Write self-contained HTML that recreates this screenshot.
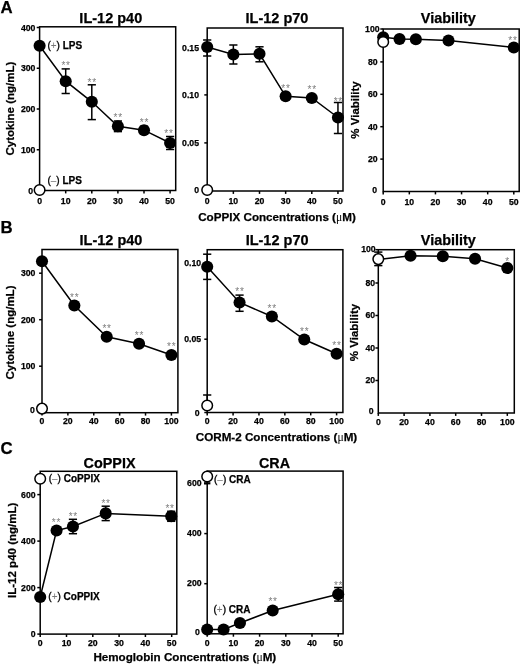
<!DOCTYPE html>
<html lang="en"><head><meta charset="utf-8"><title>Figure</title>
<style>html,body{margin:0;padding:0;background:#fff;overflow:hidden}svg{display:block;filter:grayscale(1)}text{font-family:"Liberation Sans",Arial,Helvetica,sans-serif}text[font-weight="bold"]{stroke:#000;stroke-width:0.25px}</style></head><body>
<svg width="520" height="664" viewBox="0 0 520 664">
<rect width="520" height="664" fill="#fff"/>
<text x="0.60" y="12.60" font-size="16.8" text-anchor="start" font-weight="bold" fill="#000" >A</text>
<text x="0.50" y="233.00" font-size="16.8" text-anchor="start" font-weight="bold" fill="#000" >B</text>
<text x="0.40" y="454.20" font-size="16.8" text-anchor="start" font-weight="bold" fill="#000" >C</text>
<rect x="39.60" y="26.80" width="136.10" height="163.70" fill="none" stroke="#000" stroke-width="1.5"/>
<text x="110.80" y="23.40" font-size="14.5" text-anchor="middle" font-weight="bold" fill="#000" >IL-12 p40</text>
<line x1="39.60" y1="190.50" x2="39.60" y2="193.40" stroke="#000" stroke-width="1.5" />
<text x="39.60" y="203.90" font-size="8.7" text-anchor="middle" font-weight="bold" fill="#000" >0</text>
<line x1="65.70" y1="190.50" x2="65.70" y2="193.40" stroke="#000" stroke-width="1.5" />
<text x="65.70" y="203.90" font-size="8.7" text-anchor="middle" font-weight="bold" fill="#000" >10</text>
<line x1="91.80" y1="190.50" x2="91.80" y2="193.40" stroke="#000" stroke-width="1.5" />
<text x="91.80" y="203.90" font-size="8.7" text-anchor="middle" font-weight="bold" fill="#000" >20</text>
<line x1="117.90" y1="190.50" x2="117.90" y2="193.40" stroke="#000" stroke-width="1.5" />
<text x="117.90" y="203.90" font-size="8.7" text-anchor="middle" font-weight="bold" fill="#000" >30</text>
<line x1="144.00" y1="190.50" x2="144.00" y2="193.40" stroke="#000" stroke-width="1.5" />
<text x="144.00" y="203.90" font-size="8.7" text-anchor="middle" font-weight="bold" fill="#000" >40</text>
<line x1="170.10" y1="190.50" x2="170.10" y2="193.40" stroke="#000" stroke-width="1.5" />
<text x="170.10" y="203.90" font-size="8.7" text-anchor="middle" font-weight="bold" fill="#000" >50</text>
<line x1="36.70" y1="149.75" x2="39.60" y2="149.75" stroke="#000" stroke-width="1.5" />
<text x="35.40" y="152.75" font-size="8.7" text-anchor="end" font-weight="bold" fill="#000" >100</text>
<line x1="36.70" y1="109.00" x2="39.60" y2="109.00" stroke="#000" stroke-width="1.5" />
<text x="35.40" y="112.00" font-size="8.7" text-anchor="end" font-weight="bold" fill="#000" >200</text>
<line x1="36.70" y1="68.25" x2="39.60" y2="68.25" stroke="#000" stroke-width="1.5" />
<text x="35.40" y="71.25" font-size="8.7" text-anchor="end" font-weight="bold" fill="#000" >300</text>
<line x1="36.70" y1="27.50" x2="39.60" y2="27.50" stroke="#000" stroke-width="1.5" />
<text x="35.40" y="30.50" font-size="8.7" text-anchor="end" font-weight="bold" fill="#000" >400</text>
<text x="33.20" y="193.50" font-size="8.7" text-anchor="end" font-weight="bold" fill="#000" >0</text>
<text transform="translate(14.10,108.60) rotate(-90)" font-size="11.5" text-anchor="middle" font-weight="bold">Cytokine (ng/mL)</text>
<polyline points="39.60,45.80 65.70,81.20 91.80,101.80 117.90,126.30 144.00,130.20 170.10,143.00" fill="none" stroke="#000" stroke-width="1.5"/>
<line x1="65.70" y1="68.90" x2="65.70" y2="93.50" stroke="#000" stroke-width="1.5" />
<line x1="61.60" y1="68.90" x2="69.80" y2="68.90" stroke="#000" stroke-width="1.5" />
<line x1="61.60" y1="93.50" x2="69.80" y2="93.50" stroke="#000" stroke-width="1.5" />
<line x1="91.80" y1="84.80" x2="91.80" y2="119.60" stroke="#000" stroke-width="1.5" />
<line x1="87.70" y1="84.80" x2="95.90" y2="84.80" stroke="#000" stroke-width="1.5" />
<line x1="87.70" y1="119.60" x2="95.90" y2="119.60" stroke="#000" stroke-width="1.5" />
<line x1="117.90" y1="121.00" x2="117.90" y2="131.60" stroke="#000" stroke-width="1.5" />
<line x1="113.80" y1="121.00" x2="122.00" y2="121.00" stroke="#000" stroke-width="1.5" />
<line x1="113.80" y1="131.60" x2="122.00" y2="131.60" stroke="#000" stroke-width="1.5" />
<line x1="144.00" y1="126.20" x2="144.00" y2="134.20" stroke="#000" stroke-width="1.5" />
<line x1="139.90" y1="126.20" x2="148.10" y2="126.20" stroke="#000" stroke-width="1.5" />
<line x1="139.90" y1="134.20" x2="148.10" y2="134.20" stroke="#000" stroke-width="1.5" />
<line x1="170.10" y1="136.50" x2="170.10" y2="149.50" stroke="#000" stroke-width="1.5" />
<line x1="166.00" y1="136.50" x2="174.20" y2="136.50" stroke="#000" stroke-width="1.5" />
<line x1="166.00" y1="149.50" x2="174.20" y2="149.50" stroke="#000" stroke-width="1.5" />
<circle cx="39.60" cy="45.80" r="6.05" fill="#000"/>
<circle cx="65.70" cy="81.20" r="6.05" fill="#000"/>
<circle cx="91.80" cy="101.80" r="6.05" fill="#000"/>
<circle cx="117.90" cy="126.30" r="6.05" fill="#000"/>
<circle cx="144.00" cy="130.20" r="6.05" fill="#000"/>
<circle cx="170.10" cy="143.00" r="6.05" fill="#000"/>
<circle cx="39.60" cy="190.00" r="5.30" fill="#fff" stroke="#000" stroke-width="1.5"/>
<text x="66.10" y="69.20" font-size="10" text-anchor="middle" font-weight="normal" fill="#7d7d7d" letter-spacing="0.8">**</text>
<text x="92.20" y="85.50" font-size="10" text-anchor="middle" font-weight="normal" fill="#7d7d7d" letter-spacing="0.8">**</text>
<text x="118.30" y="121.20" font-size="10" text-anchor="middle" font-weight="normal" fill="#7d7d7d" letter-spacing="0.8">**</text>
<text x="144.40" y="125.80" font-size="10" text-anchor="middle" font-weight="normal" fill="#7d7d7d" letter-spacing="0.8">**</text>
<text x="169.00" y="137.20" font-size="10" text-anchor="middle" font-weight="normal" fill="#7d7d7d" letter-spacing="0.8">**</text>
<text x="47.40" y="48.90" font-size="10" font-weight="bold"><tspan font-weight="normal" stroke-width="0.35">(</tspan><tspan font-weight="normal" fill="#777" stroke="none">+</tspan><tspan font-weight="normal" stroke-width="0.35">)</tspan> LPS</text>
<text x="47.40" y="184.00" font-size="10" font-weight="bold"><tspan font-weight="normal" stroke-width="0.35">(</tspan><tspan font-weight="normal" fill="#777" stroke="none">&#8211;</tspan><tspan font-weight="normal" stroke-width="0.35">)</tspan> LPS</text>
<rect x="207.20" y="28.00" width="135.80" height="163.00" fill="none" stroke="#000" stroke-width="1.5"/>
<text x="277.00" y="23.20" font-size="14.5" text-anchor="middle" font-weight="bold" fill="#000" >IL-12 p70</text>
<line x1="207.20" y1="191.00" x2="207.20" y2="193.90" stroke="#000" stroke-width="1.5" />
<text x="207.20" y="204.40" font-size="8.7" text-anchor="middle" font-weight="bold" fill="#000" >0</text>
<line x1="233.35" y1="191.00" x2="233.35" y2="193.90" stroke="#000" stroke-width="1.5" />
<text x="233.35" y="204.40" font-size="8.7" text-anchor="middle" font-weight="bold" fill="#000" >10</text>
<line x1="259.50" y1="191.00" x2="259.50" y2="193.90" stroke="#000" stroke-width="1.5" />
<text x="259.50" y="204.40" font-size="8.7" text-anchor="middle" font-weight="bold" fill="#000" >20</text>
<line x1="285.65" y1="191.00" x2="285.65" y2="193.90" stroke="#000" stroke-width="1.5" />
<text x="285.65" y="204.40" font-size="8.7" text-anchor="middle" font-weight="bold" fill="#000" >30</text>
<line x1="311.80" y1="191.00" x2="311.80" y2="193.90" stroke="#000" stroke-width="1.5" />
<text x="311.80" y="204.40" font-size="8.7" text-anchor="middle" font-weight="bold" fill="#000" >40</text>
<line x1="337.95" y1="191.00" x2="337.95" y2="193.90" stroke="#000" stroke-width="1.5" />
<text x="337.95" y="204.40" font-size="8.7" text-anchor="middle" font-weight="bold" fill="#000" >50</text>
<line x1="204.30" y1="190.00" x2="207.20" y2="190.00" stroke="#000" stroke-width="1.5" />
<text x="199.00" y="193.00" font-size="8.7" text-anchor="end" font-weight="bold" fill="#000" >0</text>
<line x1="204.30" y1="142.90" x2="207.20" y2="142.90" stroke="#000" stroke-width="1.5" />
<text x="199.00" y="145.90" font-size="8.7" text-anchor="end" font-weight="bold" fill="#000" >0.05</text>
<line x1="204.30" y1="94.90" x2="207.20" y2="94.90" stroke="#000" stroke-width="1.5" />
<text x="199.00" y="97.90" font-size="8.7" text-anchor="end" font-weight="bold" fill="#000" >0.10</text>
<line x1="204.30" y1="47.50" x2="207.20" y2="47.50" stroke="#000" stroke-width="1.5" />
<text x="199.00" y="50.50" font-size="8.7" text-anchor="end" font-weight="bold" fill="#000" >0.15</text>
<polyline points="207.20,47.00 233.35,54.50 259.50,53.80 285.65,96.30 311.80,98.00 337.95,117.50" fill="none" stroke="#000" stroke-width="1.5"/>
<line x1="207.20" y1="40.00" x2="207.20" y2="56.00" stroke="#000" stroke-width="1.5" />
<line x1="203.10" y1="40.00" x2="211.30" y2="40.00" stroke="#000" stroke-width="1.5" />
<line x1="203.10" y1="56.00" x2="211.30" y2="56.00" stroke="#000" stroke-width="1.5" />
<line x1="233.35" y1="45.00" x2="233.35" y2="64.00" stroke="#000" stroke-width="1.5" />
<line x1="229.25" y1="45.00" x2="237.45" y2="45.00" stroke="#000" stroke-width="1.5" />
<line x1="229.25" y1="64.00" x2="237.45" y2="64.00" stroke="#000" stroke-width="1.5" />
<line x1="259.50" y1="46.80" x2="259.50" y2="61.80" stroke="#000" stroke-width="1.5" />
<line x1="255.40" y1="46.80" x2="263.60" y2="46.80" stroke="#000" stroke-width="1.5" />
<line x1="255.40" y1="61.80" x2="263.60" y2="61.80" stroke="#000" stroke-width="1.5" />
<line x1="337.95" y1="102.50" x2="337.95" y2="133.50" stroke="#000" stroke-width="1.5" />
<line x1="333.85" y1="102.50" x2="342.05" y2="102.50" stroke="#000" stroke-width="1.5" />
<line x1="333.85" y1="133.50" x2="342.05" y2="133.50" stroke="#000" stroke-width="1.5" />
<circle cx="207.20" cy="47.00" r="6.05" fill="#000"/>
<circle cx="233.35" cy="54.50" r="6.05" fill="#000"/>
<circle cx="259.50" cy="53.80" r="6.05" fill="#000"/>
<circle cx="285.65" cy="96.30" r="6.05" fill="#000"/>
<circle cx="311.80" cy="98.00" r="6.05" fill="#000"/>
<circle cx="337.95" cy="117.50" r="6.05" fill="#000"/>
<circle cx="207.20" cy="190.00" r="5.30" fill="#fff" stroke="#000" stroke-width="1.5"/>
<text x="286.05" y="91.80" font-size="10" text-anchor="middle" font-weight="normal" fill="#7d7d7d" letter-spacing="0.8">**</text>
<text x="312.20" y="92.50" font-size="10" text-anchor="middle" font-weight="normal" fill="#7d7d7d" letter-spacing="0.8">**</text>
<text x="338.35" y="104.50" font-size="10" text-anchor="middle" font-weight="normal" fill="#7d7d7d" letter-spacing="0.8">**</text>
<text x="277.00" y="220.50" font-size="11.65" text-anchor="middle" font-weight="bold">CoPPIX Concentrations (<tspan font-family="'Liberation Serif', 'DejaVu Serif', serif" font-weight="normal" stroke="none">&#956;</tspan>M)</text>
<rect x="383.20" y="29.00" width="136.00" height="162.50" fill="none" stroke="#000" stroke-width="1.5"/>
<text x="448.30" y="23.30" font-size="14.4" text-anchor="middle" font-weight="bold" fill="#000" >Viability</text>
<line x1="383.20" y1="191.50" x2="383.20" y2="194.40" stroke="#000" stroke-width="1.5" />
<text x="383.20" y="204.90" font-size="8.7" text-anchor="middle" font-weight="bold" fill="#000" >0</text>
<line x1="409.32" y1="191.50" x2="409.32" y2="194.40" stroke="#000" stroke-width="1.5" />
<text x="409.32" y="204.90" font-size="8.7" text-anchor="middle" font-weight="bold" fill="#000" >10</text>
<line x1="435.44" y1="191.50" x2="435.44" y2="194.40" stroke="#000" stroke-width="1.5" />
<text x="435.44" y="204.90" font-size="8.7" text-anchor="middle" font-weight="bold" fill="#000" >20</text>
<line x1="461.56" y1="191.50" x2="461.56" y2="194.40" stroke="#000" stroke-width="1.5" />
<text x="461.56" y="204.90" font-size="8.7" text-anchor="middle" font-weight="bold" fill="#000" >30</text>
<line x1="487.68" y1="191.50" x2="487.68" y2="194.40" stroke="#000" stroke-width="1.5" />
<text x="487.68" y="204.90" font-size="8.7" text-anchor="middle" font-weight="bold" fill="#000" >40</text>
<line x1="513.80" y1="191.50" x2="513.80" y2="194.40" stroke="#000" stroke-width="1.5" />
<text x="513.80" y="204.90" font-size="8.7" text-anchor="middle" font-weight="bold" fill="#000" >50</text>
<line x1="380.30" y1="159.10" x2="383.20" y2="159.10" stroke="#000" stroke-width="1.5" />
<text x="377.60" y="162.10" font-size="8.7" text-anchor="end" font-weight="bold" fill="#000" >20</text>
<line x1="380.30" y1="126.70" x2="383.20" y2="126.70" stroke="#000" stroke-width="1.5" />
<text x="377.60" y="129.70" font-size="8.7" text-anchor="end" font-weight="bold" fill="#000" >40</text>
<line x1="380.30" y1="94.30" x2="383.20" y2="94.30" stroke="#000" stroke-width="1.5" />
<text x="377.60" y="97.30" font-size="8.7" text-anchor="end" font-weight="bold" fill="#000" >60</text>
<line x1="380.30" y1="61.90" x2="383.20" y2="61.90" stroke="#000" stroke-width="1.5" />
<text x="377.60" y="64.90" font-size="8.7" text-anchor="end" font-weight="bold" fill="#000" >80</text>
<line x1="380.30" y1="29.00" x2="383.20" y2="29.00" stroke="#000" stroke-width="1.5" />
<text x="379.60" y="32.00" font-size="8.7" text-anchor="end" font-weight="bold" fill="#000" >100</text>
<text x="377.00" y="192.50" font-size="8.7" text-anchor="end" font-weight="bold" fill="#000" >0</text>
<text transform="translate(358.80,110.00) rotate(-90)" font-size="11.5" text-anchor="middle" font-weight="bold">% Viability</text>
<polyline points="383.20,37.30 399.52,39.00 415.85,39.20 448.50,40.50 513.80,47.50" fill="none" stroke="#000" stroke-width="1.5"/>
<circle cx="383.20" cy="37.30" r="6.05" fill="#000"/>
<circle cx="399.52" cy="39.00" r="6.05" fill="#000"/>
<circle cx="415.85" cy="39.20" r="6.05" fill="#000"/>
<circle cx="448.50" cy="40.50" r="6.05" fill="#000"/>
<circle cx="513.80" cy="47.50" r="6.05" fill="#000"/>
<circle cx="383.20" cy="42.00" r="5.30" fill="#fff" stroke="#000" stroke-width="1.5"/>
<text x="513.00" y="43.50" font-size="10" text-anchor="middle" font-weight="normal" fill="#7d7d7d" letter-spacing="0.8">**</text>
<rect x="42.00" y="249.50" width="135.90" height="163.20" fill="none" stroke="#000" stroke-width="1.5"/>
<text x="111.00" y="244.70" font-size="14.5" text-anchor="middle" font-weight="bold" fill="#000" >IL-12 p40</text>
<line x1="42.00" y1="412.70" x2="42.00" y2="415.60" stroke="#000" stroke-width="1.5" />
<text x="42.00" y="424.40" font-size="8.7" text-anchor="middle" font-weight="bold" fill="#000" >0</text>
<line x1="67.88" y1="412.70" x2="67.88" y2="415.60" stroke="#000" stroke-width="1.5" />
<text x="67.88" y="424.40" font-size="8.7" text-anchor="middle" font-weight="bold" fill="#000" >20</text>
<line x1="93.76" y1="412.70" x2="93.76" y2="415.60" stroke="#000" stroke-width="1.5" />
<text x="93.76" y="424.40" font-size="8.7" text-anchor="middle" font-weight="bold" fill="#000" >40</text>
<line x1="119.64" y1="412.70" x2="119.64" y2="415.60" stroke="#000" stroke-width="1.5" />
<text x="119.64" y="424.40" font-size="8.7" text-anchor="middle" font-weight="bold" fill="#000" >60</text>
<line x1="145.52" y1="412.70" x2="145.52" y2="415.60" stroke="#000" stroke-width="1.5" />
<text x="145.52" y="424.40" font-size="8.7" text-anchor="middle" font-weight="bold" fill="#000" >80</text>
<line x1="171.40" y1="412.70" x2="171.40" y2="415.60" stroke="#000" stroke-width="1.5" />
<text x="171.40" y="424.40" font-size="8.7" text-anchor="middle" font-weight="bold" fill="#000" >100</text>
<line x1="39.10" y1="366.20" x2="42.00" y2="366.20" stroke="#000" stroke-width="1.5" />
<text x="35.40" y="369.20" font-size="8.7" text-anchor="end" font-weight="bold" fill="#000" >100</text>
<line x1="39.10" y1="319.70" x2="42.00" y2="319.70" stroke="#000" stroke-width="1.5" />
<text x="35.40" y="322.70" font-size="8.7" text-anchor="end" font-weight="bold" fill="#000" >200</text>
<line x1="39.10" y1="273.20" x2="42.00" y2="273.20" stroke="#000" stroke-width="1.5" />
<text x="35.40" y="276.20" font-size="8.7" text-anchor="end" font-weight="bold" fill="#000" >300</text>
<text x="34.80" y="413.20" font-size="8.7" text-anchor="end" font-weight="bold" fill="#000" >0</text>
<text transform="translate(13.90,332.50) rotate(-90)" font-size="11.5" text-anchor="middle" font-weight="bold">Cytokine (ng/mL)</text>
<polyline points="42.00,261.30 74.35,305.50 106.70,336.70 139.05,343.80 171.40,355.00" fill="none" stroke="#000" stroke-width="1.5"/>
<circle cx="42.00" cy="261.30" r="6.05" fill="#000"/>
<circle cx="74.35" cy="305.50" r="6.05" fill="#000"/>
<circle cx="106.70" cy="336.70" r="6.05" fill="#000"/>
<circle cx="139.05" cy="343.80" r="6.05" fill="#000"/>
<circle cx="171.40" cy="355.00" r="6.05" fill="#000"/>
<circle cx="42.00" cy="408.60" r="5.30" fill="#fff" stroke="#000" stroke-width="1.5"/>
<text x="74.75" y="300.70" font-size="10" text-anchor="middle" font-weight="normal" fill="#7d7d7d" letter-spacing="0.8">**</text>
<text x="107.10" y="331.90" font-size="10" text-anchor="middle" font-weight="normal" fill="#7d7d7d" letter-spacing="0.8">**</text>
<text x="139.45" y="339.00" font-size="10" text-anchor="middle" font-weight="normal" fill="#7d7d7d" letter-spacing="0.8">**</text>
<text x="171.80" y="350.20" font-size="10" text-anchor="middle" font-weight="normal" fill="#7d7d7d" letter-spacing="0.8">**</text>
<rect x="207.20" y="249.70" width="135.70" height="162.80" fill="none" stroke="#000" stroke-width="1.5"/>
<text x="277.10" y="244.90" font-size="14.5" text-anchor="middle" font-weight="bold" fill="#000" >IL-12 p70</text>
<line x1="207.20" y1="412.50" x2="207.20" y2="415.40" stroke="#000" stroke-width="1.5" />
<text x="207.20" y="424.20" font-size="8.7" text-anchor="middle" font-weight="bold" fill="#000" >0</text>
<line x1="233.08" y1="412.50" x2="233.08" y2="415.40" stroke="#000" stroke-width="1.5" />
<text x="233.08" y="424.20" font-size="8.7" text-anchor="middle" font-weight="bold" fill="#000" >20</text>
<line x1="258.96" y1="412.50" x2="258.96" y2="415.40" stroke="#000" stroke-width="1.5" />
<text x="258.96" y="424.20" font-size="8.7" text-anchor="middle" font-weight="bold" fill="#000" >40</text>
<line x1="284.84" y1="412.50" x2="284.84" y2="415.40" stroke="#000" stroke-width="1.5" />
<text x="284.84" y="424.20" font-size="8.7" text-anchor="middle" font-weight="bold" fill="#000" >60</text>
<line x1="310.72" y1="412.50" x2="310.72" y2="415.40" stroke="#000" stroke-width="1.5" />
<text x="310.72" y="424.20" font-size="8.7" text-anchor="middle" font-weight="bold" fill="#000" >80</text>
<line x1="336.60" y1="412.50" x2="336.60" y2="415.40" stroke="#000" stroke-width="1.5" />
<text x="336.60" y="424.20" font-size="8.7" text-anchor="middle" font-weight="bold" fill="#000" >100</text>
<line x1="204.30" y1="339.20" x2="207.20" y2="339.20" stroke="#000" stroke-width="1.5" />
<text x="201.20" y="342.20" font-size="8.7" text-anchor="end" font-weight="bold" fill="#000" >0.05</text>
<line x1="204.30" y1="263.00" x2="207.20" y2="263.00" stroke="#000" stroke-width="1.5" />
<text x="201.20" y="266.00" font-size="8.7" text-anchor="end" font-weight="bold" fill="#000" >0.10</text>
<line x1="204.30" y1="412.50" x2="207.20" y2="412.50" stroke="#000" stroke-width="1.5" />
<text x="199.70" y="415.50" font-size="8.7" text-anchor="end" font-weight="bold" fill="#000" >0</text>
<polyline points="207.20,266.80 239.55,302.50 271.90,316.50 304.25,339.50 336.60,353.80" fill="none" stroke="#000" stroke-width="1.5"/>
<line x1="207.20" y1="254.20" x2="207.20" y2="279.40" stroke="#000" stroke-width="1.5" />
<line x1="203.10" y1="254.20" x2="211.30" y2="254.20" stroke="#000" stroke-width="1.5" />
<line x1="203.10" y1="279.40" x2="211.30" y2="279.40" stroke="#000" stroke-width="1.5" />
<line x1="239.55" y1="295.10" x2="239.55" y2="311.30" stroke="#000" stroke-width="1.5" />
<line x1="235.45" y1="295.10" x2="243.65" y2="295.10" stroke="#000" stroke-width="1.5" />
<line x1="235.45" y1="311.30" x2="243.65" y2="311.30" stroke="#000" stroke-width="1.5" />
<line x1="271.90" y1="313.50" x2="271.90" y2="319.50" stroke="#000" stroke-width="1.5" />
<line x1="267.80" y1="313.50" x2="276.00" y2="313.50" stroke="#000" stroke-width="1.5" />
<line x1="267.80" y1="319.50" x2="276.00" y2="319.50" stroke="#000" stroke-width="1.5" />
<circle cx="207.20" cy="266.80" r="6.05" fill="#000"/>
<circle cx="239.55" cy="302.50" r="6.05" fill="#000"/>
<circle cx="271.90" cy="316.50" r="6.05" fill="#000"/>
<circle cx="304.25" cy="339.50" r="6.05" fill="#000"/>
<circle cx="336.60" cy="353.80" r="6.05" fill="#000"/>
<line x1="207.20" y1="395.00" x2="207.20" y2="405.50" stroke="#000" stroke-width="1.5" />
<line x1="203.10" y1="395.00" x2="211.30" y2="395.00" stroke="#000" stroke-width="1.5" />
<circle cx="207.20" cy="405.50" r="5.30" fill="#fff" stroke="#000" stroke-width="1.5"/>
<text x="239.95" y="294.50" font-size="10" text-anchor="middle" font-weight="normal" fill="#7d7d7d" letter-spacing="0.8">**</text>
<text x="272.30" y="311.50" font-size="10" text-anchor="middle" font-weight="normal" fill="#7d7d7d" letter-spacing="0.8">**</text>
<text x="304.65" y="334.50" font-size="10" text-anchor="middle" font-weight="normal" fill="#7d7d7d" letter-spacing="0.8">**</text>
<text x="337.00" y="349.30" font-size="10" text-anchor="middle" font-weight="normal" fill="#7d7d7d" letter-spacing="0.8">**</text>
<text x="276.50" y="441.00" font-size="11.65" text-anchor="middle" font-weight="bold">CORM-2 Concentrations (<tspan font-family="'Liberation Serif', 'DejaVu Serif', serif" font-weight="normal" stroke="none">&#956;</tspan>M)</text>
<rect x="378.30" y="249.70" width="136.00" height="163.30" fill="none" stroke="#000" stroke-width="1.5"/>
<text x="448.30" y="245.00" font-size="14.4" text-anchor="middle" font-weight="bold" fill="#000" >Viability</text>
<line x1="378.30" y1="413.00" x2="378.30" y2="415.90" stroke="#000" stroke-width="1.5" />
<text x="378.30" y="424.70" font-size="8.7" text-anchor="middle" font-weight="bold" fill="#000" >0</text>
<line x1="404.10" y1="413.00" x2="404.10" y2="415.90" stroke="#000" stroke-width="1.5" />
<text x="404.10" y="424.70" font-size="8.7" text-anchor="middle" font-weight="bold" fill="#000" >20</text>
<line x1="429.90" y1="413.00" x2="429.90" y2="415.90" stroke="#000" stroke-width="1.5" />
<text x="429.90" y="424.70" font-size="8.7" text-anchor="middle" font-weight="bold" fill="#000" >40</text>
<line x1="455.70" y1="413.00" x2="455.70" y2="415.90" stroke="#000" stroke-width="1.5" />
<text x="455.70" y="424.70" font-size="8.7" text-anchor="middle" font-weight="bold" fill="#000" >60</text>
<line x1="481.50" y1="413.00" x2="481.50" y2="415.90" stroke="#000" stroke-width="1.5" />
<text x="481.50" y="424.70" font-size="8.7" text-anchor="middle" font-weight="bold" fill="#000" >80</text>
<line x1="507.30" y1="413.00" x2="507.30" y2="415.90" stroke="#000" stroke-width="1.5" />
<text x="507.30" y="424.70" font-size="8.7" text-anchor="middle" font-weight="bold" fill="#000" >100</text>
<line x1="375.40" y1="380.50" x2="378.30" y2="380.50" stroke="#000" stroke-width="1.5" />
<text x="375.20" y="383.20" font-size="8.7" text-anchor="end" font-weight="bold" fill="#000" >20</text>
<line x1="375.40" y1="348.00" x2="378.30" y2="348.00" stroke="#000" stroke-width="1.5" />
<text x="375.20" y="350.70" font-size="8.7" text-anchor="end" font-weight="bold" fill="#000" >40</text>
<line x1="375.40" y1="315.50" x2="378.30" y2="315.50" stroke="#000" stroke-width="1.5" />
<text x="375.20" y="318.20" font-size="8.7" text-anchor="end" font-weight="bold" fill="#000" >60</text>
<line x1="375.40" y1="283.00" x2="378.30" y2="283.00" stroke="#000" stroke-width="1.5" />
<text x="375.20" y="285.70" font-size="8.7" text-anchor="end" font-weight="bold" fill="#000" >80</text>
<line x1="375.40" y1="249.70" x2="378.30" y2="249.70" stroke="#000" stroke-width="1.5" />
<text x="375.70" y="252.40" font-size="8.7" text-anchor="end" font-weight="bold" fill="#000" >100</text>
<text x="373.70" y="413.50" font-size="8.7" text-anchor="end" font-weight="bold" fill="#000" >0</text>
<text transform="translate(358.10,332.50) rotate(-90)" font-size="11.5" text-anchor="middle" font-weight="bold">% Viability</text>
<polyline points="378.30,259.50 410.55,255.80 442.80,256.30 475.05,258.80 507.30,268.00" fill="none" stroke="#000" stroke-width="1.5"/>
<line x1="378.30" y1="252.10" x2="378.30" y2="265.60" stroke="#000" stroke-width="1.5" />
<line x1="374.20" y1="252.10" x2="382.40" y2="252.10" stroke="#000" stroke-width="1.5" />
<line x1="374.20" y1="265.60" x2="382.40" y2="265.60" stroke="#000" stroke-width="1.5" />
<circle cx="410.55" cy="255.80" r="6.05" fill="#000"/>
<circle cx="442.80" cy="256.30" r="6.05" fill="#000"/>
<circle cx="475.05" cy="258.80" r="6.05" fill="#000"/>
<circle cx="507.30" cy="268.00" r="6.05" fill="#000"/>
<circle cx="378.30" cy="259.10" r="5.30" fill="#fff" stroke="#000" stroke-width="1.5"/>
<text x="507.70" y="264.70" font-size="10" text-anchor="middle" font-weight="normal" fill="#7d7d7d" letter-spacing="0.8">*</text>
<rect x="40.20" y="471.30" width="136.60" height="162.80" fill="none" stroke="#000" stroke-width="1.5"/>
<text x="109.50" y="467.50" font-size="14.4" text-anchor="middle" font-weight="bold" fill="#000" >CoPPIX</text>
<line x1="40.20" y1="634.10" x2="40.20" y2="637.00" stroke="#000" stroke-width="1.5" />
<text x="40.20" y="646.00" font-size="8.7" text-anchor="middle" font-weight="bold" fill="#000" >0</text>
<line x1="66.50" y1="634.10" x2="66.50" y2="637.00" stroke="#000" stroke-width="1.5" />
<text x="66.50" y="646.00" font-size="8.7" text-anchor="middle" font-weight="bold" fill="#000" >10</text>
<line x1="92.80" y1="634.10" x2="92.80" y2="637.00" stroke="#000" stroke-width="1.5" />
<text x="92.80" y="646.00" font-size="8.7" text-anchor="middle" font-weight="bold" fill="#000" >20</text>
<line x1="119.10" y1="634.10" x2="119.10" y2="637.00" stroke="#000" stroke-width="1.5" />
<text x="119.10" y="646.00" font-size="8.7" text-anchor="middle" font-weight="bold" fill="#000" >30</text>
<line x1="145.40" y1="634.10" x2="145.40" y2="637.00" stroke="#000" stroke-width="1.5" />
<text x="145.40" y="646.00" font-size="8.7" text-anchor="middle" font-weight="bold" fill="#000" >40</text>
<line x1="171.70" y1="634.10" x2="171.70" y2="637.00" stroke="#000" stroke-width="1.5" />
<text x="171.70" y="646.00" font-size="8.7" text-anchor="middle" font-weight="bold" fill="#000" >50</text>
<line x1="37.30" y1="634.10" x2="40.20" y2="634.10" stroke="#000" stroke-width="1.5" />
<text x="35.60" y="637.30" font-size="8.7" text-anchor="end" font-weight="bold" fill="#000" >0</text>
<line x1="37.30" y1="587.60" x2="40.20" y2="587.60" stroke="#000" stroke-width="1.5" />
<text x="35.60" y="590.80" font-size="8.7" text-anchor="end" font-weight="bold" fill="#000" >200</text>
<line x1="37.30" y1="541.10" x2="40.20" y2="541.10" stroke="#000" stroke-width="1.5" />
<text x="35.60" y="544.30" font-size="8.7" text-anchor="end" font-weight="bold" fill="#000" >400</text>
<line x1="37.30" y1="494.60" x2="40.20" y2="494.60" stroke="#000" stroke-width="1.5" />
<text x="35.60" y="497.80" font-size="8.7" text-anchor="end" font-weight="bold" fill="#000" >600</text>
<text transform="translate(15.90,550.30) rotate(-90)" font-size="11.5" text-anchor="middle" font-weight="bold" textLength="95.5" lengthAdjust="spacingAndGlyphs">IL-12 p40 (ng/mL)</text>
<polyline points="40.20,597.00 56.58,530.50 72.95,526.50 105.70,513.40 171.20,516.30" fill="none" stroke="#000" stroke-width="1.5"/>
<line x1="56.58" y1="527.50" x2="56.58" y2="533.50" stroke="#000" stroke-width="1.5" />
<line x1="52.48" y1="527.50" x2="60.68" y2="527.50" stroke="#000" stroke-width="1.5" />
<line x1="52.48" y1="533.50" x2="60.68" y2="533.50" stroke="#000" stroke-width="1.5" />
<line x1="72.95" y1="519.30" x2="72.95" y2="533.70" stroke="#000" stroke-width="1.5" />
<line x1="68.85" y1="519.30" x2="77.05" y2="519.30" stroke="#000" stroke-width="1.5" />
<line x1="68.85" y1="533.70" x2="77.05" y2="533.70" stroke="#000" stroke-width="1.5" />
<line x1="105.70" y1="506.20" x2="105.70" y2="520.60" stroke="#000" stroke-width="1.5" />
<line x1="101.60" y1="506.20" x2="109.80" y2="506.20" stroke="#000" stroke-width="1.5" />
<line x1="101.60" y1="520.60" x2="109.80" y2="520.60" stroke="#000" stroke-width="1.5" />
<line x1="171.20" y1="511.30" x2="171.20" y2="521.30" stroke="#000" stroke-width="1.5" />
<line x1="167.10" y1="511.30" x2="175.30" y2="511.30" stroke="#000" stroke-width="1.5" />
<line x1="167.10" y1="521.30" x2="175.30" y2="521.30" stroke="#000" stroke-width="1.5" />
<circle cx="40.20" cy="597.00" r="6.05" fill="#000"/>
<circle cx="56.58" cy="530.50" r="6.05" fill="#000"/>
<circle cx="72.95" cy="526.50" r="6.05" fill="#000"/>
<circle cx="105.70" cy="513.40" r="6.05" fill="#000"/>
<circle cx="171.20" cy="516.30" r="6.05" fill="#000"/>
<circle cx="40.20" cy="478.80" r="5.30" fill="#fff" stroke="#000" stroke-width="1.5"/>
<text x="56.48" y="526.20" font-size="10" text-anchor="middle" font-weight="normal" fill="#7d7d7d" letter-spacing="0.8">**</text>
<text x="73.35" y="519.50" font-size="10" text-anchor="middle" font-weight="normal" fill="#7d7d7d" letter-spacing="0.8">**</text>
<text x="106.10" y="507.40" font-size="10" text-anchor="middle" font-weight="normal" fill="#7d7d7d" letter-spacing="0.8">**</text>
<text x="170.10" y="511.50" font-size="10" text-anchor="middle" font-weight="normal" fill="#7d7d7d" letter-spacing="0.8">**</text>
<text x="48.70" y="481.80" font-size="10" font-weight="bold"><tspan font-weight="normal" stroke-width="0.35">(</tspan><tspan font-weight="normal" fill="#777" stroke="none">&#8211;</tspan><tspan font-weight="normal" stroke-width="0.35">)</tspan> CoPPIX</text>
<text x="48.30" y="599.50" font-size="10" font-weight="bold"><tspan font-weight="normal" stroke-width="0.35">(</tspan><tspan font-weight="normal" fill="#777" stroke="none">+</tspan><tspan font-weight="normal" stroke-width="0.35">)</tspan> CoPPIX</text>
<text x="184.80" y="660.60" font-size="11.65" text-anchor="middle" font-weight="bold">Hemoglobin Concentrations (<tspan font-family="'Liberation Serif', 'DejaVu Serif', serif" font-weight="normal" stroke="none">&#956;</tspan>M)</text>
<rect x="207.20" y="471.10" width="135.90" height="162.70" fill="none" stroke="#000" stroke-width="1.5"/>
<text x="274.50" y="468.00" font-size="14.3" text-anchor="middle" font-weight="bold" fill="#000" >CRA</text>
<line x1="207.20" y1="633.80" x2="207.20" y2="636.70" stroke="#000" stroke-width="1.5" />
<text x="207.20" y="645.70" font-size="8.7" text-anchor="middle" font-weight="bold" fill="#000" >0</text>
<line x1="233.40" y1="633.80" x2="233.40" y2="636.70" stroke="#000" stroke-width="1.5" />
<text x="233.40" y="645.70" font-size="8.7" text-anchor="middle" font-weight="bold" fill="#000" >10</text>
<line x1="259.60" y1="633.80" x2="259.60" y2="636.70" stroke="#000" stroke-width="1.5" />
<text x="259.60" y="645.70" font-size="8.7" text-anchor="middle" font-weight="bold" fill="#000" >20</text>
<line x1="285.80" y1="633.80" x2="285.80" y2="636.70" stroke="#000" stroke-width="1.5" />
<text x="285.80" y="645.70" font-size="8.7" text-anchor="middle" font-weight="bold" fill="#000" >30</text>
<line x1="312.00" y1="633.80" x2="312.00" y2="636.70" stroke="#000" stroke-width="1.5" />
<text x="312.00" y="645.70" font-size="8.7" text-anchor="middle" font-weight="bold" fill="#000" >40</text>
<line x1="338.20" y1="633.80" x2="338.20" y2="636.70" stroke="#000" stroke-width="1.5" />
<text x="338.20" y="645.70" font-size="8.7" text-anchor="middle" font-weight="bold" fill="#000" >50</text>
<line x1="204.30" y1="583.70" x2="207.20" y2="583.70" stroke="#000" stroke-width="1.5" />
<text x="201.60" y="586.30" font-size="8.7" text-anchor="end" font-weight="bold" fill="#000" >200</text>
<line x1="204.30" y1="533.60" x2="207.20" y2="533.60" stroke="#000" stroke-width="1.5" />
<text x="201.60" y="536.20" font-size="8.7" text-anchor="end" font-weight="bold" fill="#000" >400</text>
<line x1="204.30" y1="483.50" x2="207.20" y2="483.50" stroke="#000" stroke-width="1.5" />
<text x="201.60" y="486.10" font-size="8.7" text-anchor="end" font-weight="bold" fill="#000" >600</text>
<text x="199.80" y="635.00" font-size="8.7" text-anchor="end" font-weight="bold" fill="#000" >0</text>
<polyline points="207.20,629.50 223.57,629.50 239.95,623.00 272.70,610.50 338.20,594.30" fill="none" stroke="#000" stroke-width="1.5"/>
<line x1="338.20" y1="587.50" x2="338.20" y2="601.10" stroke="#000" stroke-width="1.5" />
<line x1="334.10" y1="587.50" x2="342.30" y2="587.50" stroke="#000" stroke-width="1.5" />
<line x1="334.10" y1="601.10" x2="342.30" y2="601.10" stroke="#000" stroke-width="1.5" />
<circle cx="207.20" cy="629.50" r="6.05" fill="#000"/>
<circle cx="223.57" cy="629.50" r="6.05" fill="#000"/>
<circle cx="239.95" cy="623.00" r="6.05" fill="#000"/>
<circle cx="272.70" cy="610.50" r="6.05" fill="#000"/>
<circle cx="338.20" cy="594.30" r="6.05" fill="#000"/>
<line x1="204.00" y1="483.30" x2="210.40" y2="483.30" stroke="#000" stroke-width="2.2" />
<circle cx="207.20" cy="476.50" r="5.30" fill="#fff" stroke="#000" stroke-width="1.5"/>
<text x="273.10" y="605.00" font-size="10" text-anchor="middle" font-weight="normal" fill="#7d7d7d" letter-spacing="0.8">**</text>
<text x="338.60" y="588.80" font-size="10" text-anchor="middle" font-weight="normal" fill="#7d7d7d" letter-spacing="0.8">**</text>
<text x="214.00" y="482.60" font-size="10" font-weight="bold"><tspan font-weight="normal" stroke-width="0.35">(</tspan><tspan font-weight="normal" fill="#777" stroke="none">&#8211;</tspan><tspan font-weight="normal" stroke-width="0.35">)</tspan> CRA</text>
<text x="213.50" y="612.50" font-size="10" font-weight="bold"><tspan font-weight="normal" stroke-width="0.35">(</tspan><tspan font-weight="normal" fill="#777" stroke="none">+</tspan><tspan font-weight="normal" stroke-width="0.35">)</tspan> CRA</text>
</svg></body></html>
